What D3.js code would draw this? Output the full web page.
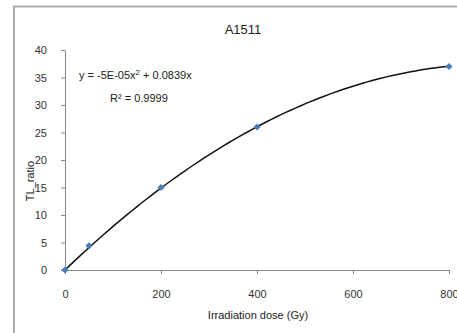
<!DOCTYPE html>
<html lang="en">
  <head>
    <meta charset="UTF-8">
    <title>A1511</title>
    <style>
      body { margin: 0; background: #fff; }
      svg text { font-family: "Liberation Sans", Arial, sans-serif; fill: #222; }
      .axis path, .axis line { stroke: #888; }
      .axis text { font-size: 11px; fill: #333; }
    </style>
    <script src="https://d3js.org/d3.v7.min.js"></script>
  </head>
  <body>
    <script>
      // measured points
      const doses = [0, 50, 200, 400, 800];
      const tlRatio = [0, 4.4, 15, 26, 37];
      const xTicks = [0, 200, 400, 600, 800];
      const yTicks = [0, 5, 10, 15, 20, 25, 30, 35, 40];
      // trendline coefficients (y = a*x^2 + b*x)
      const trendCoef = [-4.7e-5, 0.0839];

      const width = 457, height = 333;
      const margin = { top: 50, right: 8, bottom: 63, left: 65 };

      const svg = d3.select("body").append("svg")
        .attr("width", width)
        .attr("height", height);

      // chart area border
      svg.append("path")
        .attr("d", `M14,${height} V6.5 H${width}`)
        .attr("fill", "none")
        .attr("stroke", "#aaa")
        .attr("stroke-width", 2);

      const x = d3.scaleLinear().domain([0, 800]).range([margin.left, width - margin.right]);
      const y = d3.scaleLinear().domain([0, 40]).range([height - margin.bottom, margin.top]);

      svg.append("g")
        .attr("class", "axis")
        .attr("transform", `translate(0,${y(0)})`)
        .call(d3.axisBottom(x).tickValues(xTicks).tickSize(4).tickPadding(16).tickSizeOuter(0));

      svg.append("g")
        .attr("class", "axis")
        .attr("transform", `translate(${x(0)},0)`)
        .call(d3.axisLeft(y).tickValues(yTicks).tickSize(4).tickPadding(14).tickSizeOuter(0));

      // trendline
      const curve = d3.range(0, 801, 10).map(d => [d, trendCoef[0] * d * d + trendCoef[1] * d]);
      svg.append("path")
        .datum(curve)
        .attr("fill", "none")
        .attr("stroke", "#111")
        .attr("stroke-width", 1.5)
        .attr("d", d3.line().x(d => x(d[0])).y(d => y(d[1])));

      svg.selectAll(".pt")
        .data(doses)
        .enter()
        .append("path")
        .attr("class", "pt")
        .attr("transform", (d, i) => `translate(${x(d)},${y(tlRatio[i])}) rotate(45)`)
        .attr("d", d3.symbol(d3.symbolSquare, 26))
        .attr("fill", "#4a7ebb");

      svg.append("text")
        .attr("x", 243).attr("y", 34)
        .attr("text-anchor", "middle")
        .style("font-size", "13px")
        .text("A1511");

      const eq = svg.append("text")
        .attr("x", 79).attr("y", 79)
        .style("font-size", "11px");
      eq.append("tspan").text("y = -5E-05x");
      eq.append("tspan").attr("dy", -4).style("font-size", "8px").text("2");
      eq.append("tspan").attr("dy", 4).text(" + 0.0839x");

      svg.append("text")
        .attr("x", 110).attr("y", 102)
        .style("font-size", "11px")
        .text("R² = 0.9999");

      svg.append("text")
        .attr("x", 258).attr("y", 319)
        .attr("text-anchor", "middle")
        .style("font-size", "11px")
        .text("Irradiation dose (Gy)");

      svg.append("text")
        .attr("transform", "translate(34,181) rotate(-90)")
        .attr("text-anchor", "middle")
        .style("font-size", "11px")
        .text("TL_ratio");
    </script>
  </body>
</html>
